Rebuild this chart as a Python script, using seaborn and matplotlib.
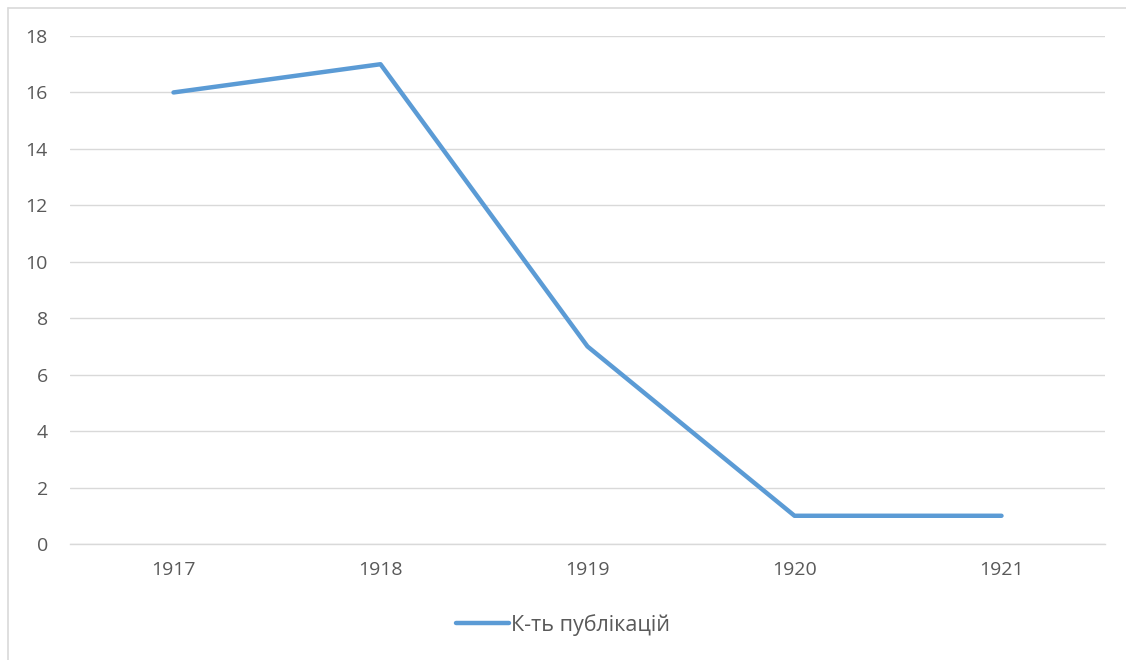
import matplotlib
matplotlib.use("Agg")
import matplotlib.pyplot as plt
import seaborn as sns
import pandas as pd
from matplotlib.lines import Line2D

years = ["1917", "1918", "1919", "1920", "1921"]
counts = [16, 17, 7, 1, 1]
series_name = "К-ть публікацій"
yticks = [0, 2, 4, 6, 8, 10, 12, 14, 16, 18]

sns.set_theme(style="white")
plt.rcParams['font.family'] = ['Open Sans', 'DejaVu Sans']

df = pd.DataFrame({"year": years, "count": counts})

fig = plt.figure(figsize=(11.26, 6.6), dpi=100)
ax = fig.add_axes([70/1126, 1-544/660, (1105-70)/1126, (544-36)/660])

sns.lineplot(data=df, x="year", y="count", ax=ax, color="#5B9BD5",
             linewidth=3.2, solid_capstyle="round", sort=False)

ax.set_xlim(-0.5, 4.5)
ax.set_ylim(0, 18)
ax.set_yticks(yticks)
ax.grid(axis="y", color="#D9D9D9", linewidth=1)
ax.set_axisbelow(True)
for s in ["left", "right", "top"]:
    ax.spines[s].set_visible(False)
ax.spines["bottom"].set_color("#D9D9D9")
ax.spines["bottom"].set_linewidth(1)
ax.tick_params(axis="both", length=0, labelsize=14, labelcolor="#595959")
ax.tick_params(axis="y", pad=16)
ax.tick_params(axis="x", pad=12)
ax.set_xlabel("")
ax.set_ylabel("")

handle = Line2D([0], [0], color="#5B9BD5", linewidth=3.2, solid_capstyle="round")
fig.legend([handle], [series_name], loc="center", bbox_to_anchor=(0.5, 1-625/660),
           frameon=False, fontsize=15.5, labelcolor="#595959",
           handlelength=2.45, handletextpad=0.1)

# chart border (top and left visible)
fig.add_artist(Line2D([8/1126, 1], [1-8/660, 1-8/660], color="#D9D9D9", linewidth=1.2,
                      transform=fig.transFigure))
fig.add_artist(Line2D([8/1126, 8/1126], [0, 1-8/660], color="#D9D9D9", linewidth=1.2,
                      transform=fig.transFigure))

fig.savefig("out.png", dpi=100)
